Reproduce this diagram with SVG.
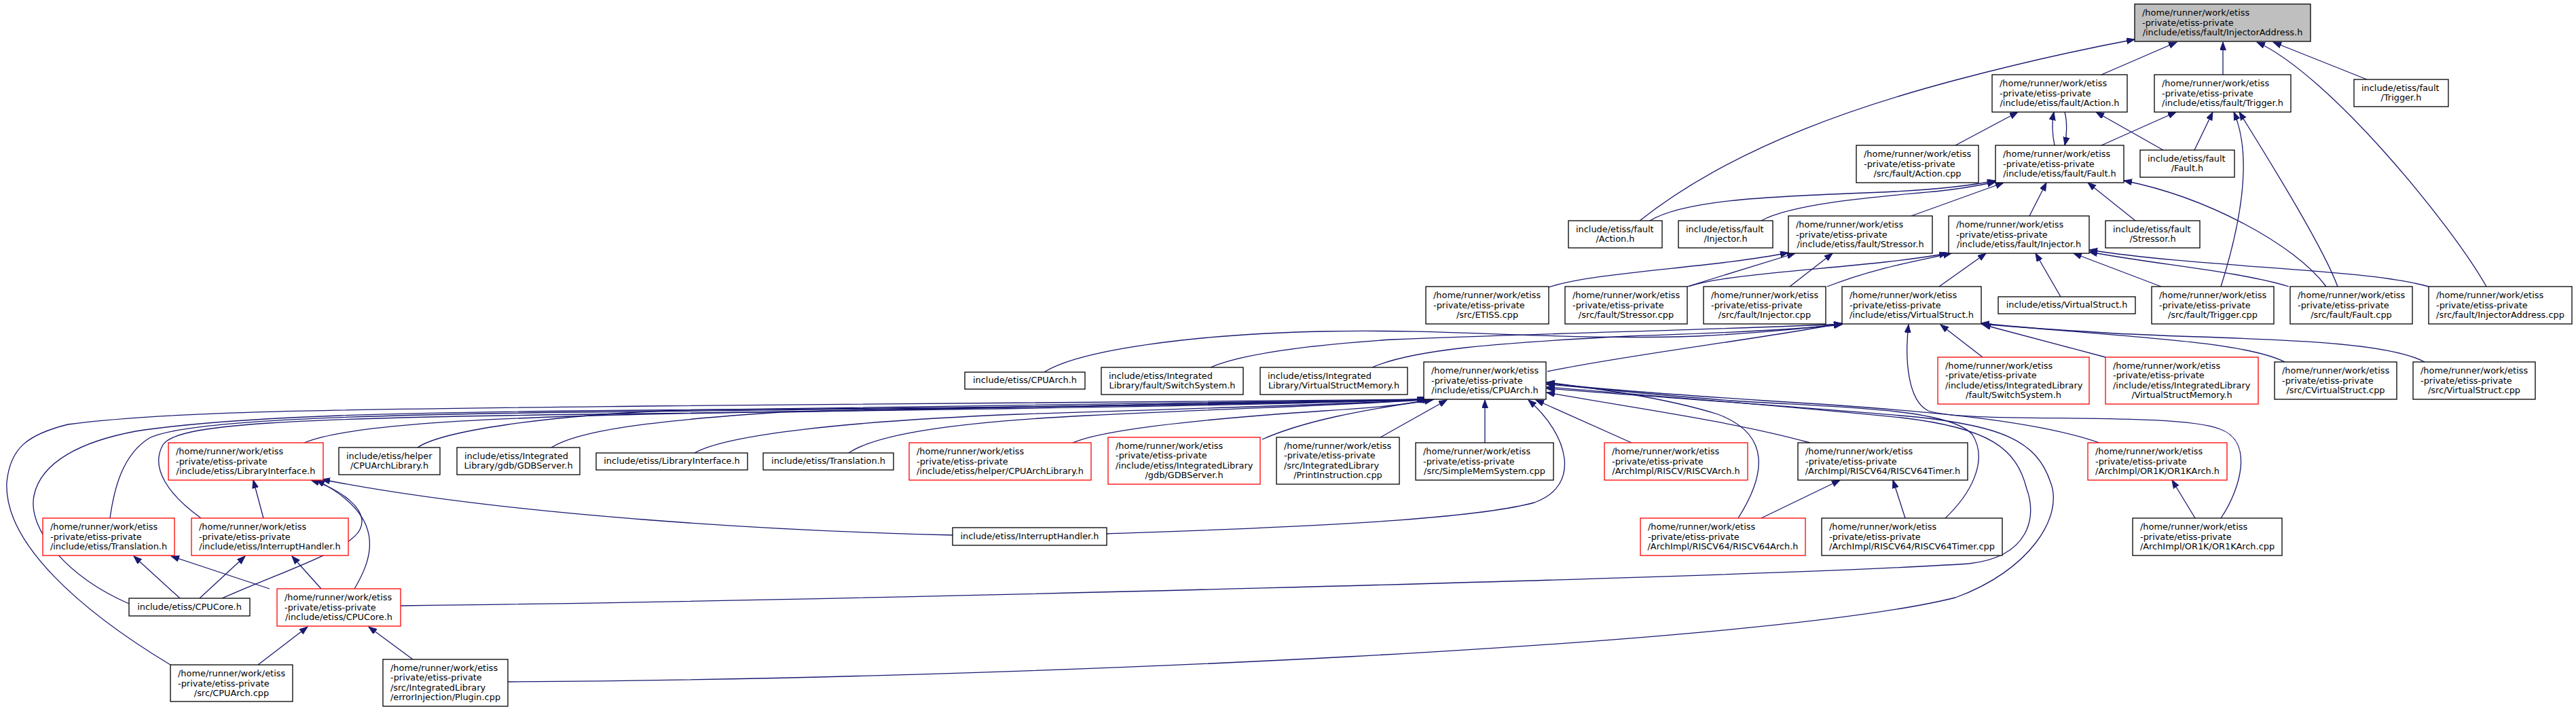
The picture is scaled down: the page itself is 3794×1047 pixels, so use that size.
<svg xmlns="http://www.w3.org/2000/svg" width="3794" height="1047" viewBox="0 0 3794 1047">
<style>
.n rect{fill:#fff;stroke:#000;stroke-width:1.3}
.red rect{stroke:#f00}
.root rect{fill:#bfbfbf}
text{font-family:"DejaVu Sans","Liberation Sans",sans-serif;font-size:12.9px;fill:#000}
.c{text-anchor:middle}
#edges path{fill:none;stroke:#191970;stroke-width:1.3;marker-end:url(#ah)}
</style>
<defs>
<marker id="ah" markerUnits="userSpaceOnUse" markerWidth="14" markerHeight="11" refX="12" refY="4.5" orient="auto"><path d="M0,0 L12,4.5 L0,9 Z" fill="#191970" stroke="#191970" stroke-width="1"/></marker>
</defs>
<rect x="0" y="0" width="3794" height="1047" fill="#fff"/>
<g id="edges">
<path d="M3095,110 L3206,62"/>
<path d="M3274,110 L3274,62"/>
<path d="M3486,117 L3348,62"/>
<path d="M3662,422 C3610,330 3430,110 3324,62"/>
<path d="M2415,325 C2560,210 2760,150 2880,118 C2990,89 3080,70 3144,58"/>
<path d="M2880,214 L2972,165"/>
<path d="M3026,214 C3022,195 3022,180 3025,165"/>
<path d="M3041,165 C3045,180 3044,200 3041,214"/>
<path d="M3186,221 L3087,165"/>
<path d="M3095,214 L3205,165"/>
<path d="M3232,221 L3259,165"/>
<path d="M3271,422 C3300,330 3318,230 3290,165"/>
<path d="M3443,422 C3420,360 3335,225 3298,165"/>
<path d="M3145,325 L3075,269"/>
<path d="M2989,318 L3014,269"/>
<path d="M3426,422 C3380,360 3250,290 3128,266"/>
<path d="M2430,325 C2480,295 2600,290 2720,285 C2820,282 2890,276 2939,266"/>
<path d="M2594,325 C2640,300 2760,290 2850,282 C2890,278 2920,272 2939,268"/>
<path d="M2815,318 L2951,269"/>
<path d="M2281,423 C2350,400 2520,395 2634,372"/>
<path d="M2485,422 L2644,373"/>
<path d="M2636,422 L2699,373"/>
<path d="M2487,422 C2550,400 2750,395 2868,373"/>
<path d="M2691,422 C2760,395 2820,385 2874,373"/>
<path d="M2856,422 L2925,373"/>
<path d="M3035,437 L2998,373"/>
<path d="M3183,422 L3054,373"/>
<path d="M3371,422 C3300,400 3180,390 3077,371"/>
<path d="M3577,422 C3480,395 3250,395 3077,368"/>
<path d="M2279,547 C2400,522 2600,498 2713,476"/>
<path d="M1538,548 C1590,515 1760,492 1950,488 C2150,484 2300,502 2500,495 C2600,490 2660,483 2713,477"/>
<path d="M1783,541 C1820,525 1900,510 2050,500 C2300,490 2550,485 2713,477"/>
<path d="M2021,541 C2080,515 2200,505 2400,495 C2550,490 2650,485 2713,478"/>
<path d="M2920,526 L2858,478"/>
<path d="M3101,526 L2920,478"/>
<path d="M3365,533 C3300,500 3100,495 2918,476"/>
<path d="M3571,533 C3500,495 3250,500 3100,490 C3000,484 2950,480 2918,477"/>
<path d="M3271,763 C3300,720 3320,650 3270,632 C3200,605 2900,625 2840,605 C2810,590 2805,530 2811,478"/>
<path d="M251,979 C120,900 5,800 10,710 C15,660 40,640 100,625 C250,605 500,603 950,598 C1500,594 1900,592 2099,588"/>
<path d="M190,889 C100,850 40,780 50,730 C60,680 120,650 200,635 C350,612 600,607 950,604 C1500,600 1900,594 2101,588"/>
<path d="M162,763 C168,720 180,670 220,645 C270,620 500,610 950,606 C1500,600 1900,595 2103,588"/>
<path d="M296,763 C250,730 220,690 240,655 C260,625 400,615 950,609 C1500,602 1900,596 2104,588"/>
<path d="M448,652 C500,630 650,617 950,610 C1500,600 1900,595 2105,588"/>
<path d="M615,659 C650,635 800,612 1000,604 C1500,598 1900,594 2106,588"/>
<path d="M812,659 C850,635 950,620 1150,607 C1500,598 1900,594 2107,588"/>
<path d="M1023,667 C1070,640 1250,620 1500,610 C1800,600 2000,595 2108,588"/>
<path d="M1250,667 C1290,640 1400,622 1600,612 C1850,600 2000,596 2109,588"/>
<path d="M1580,652 C1630,630 1800,615 1950,605 C2030,600 2080,595 2110,588"/>
<path d="M1859,647 C1920,620 2000,605 2112,588"/>
<path d="M1630,786 C1800,780 2150,770 2260,740 C2330,715 2310,640 2251,589"/>
<path d="M2033,644 L2131,589"/>
<path d="M2187,652 L2187,589"/>
<path d="M2403,652 L2262,589"/>
<path d="M2560,763 C2600,700 2610,640 2530,610 C2450,585 2350,572 2278,563"/>
<path d="M2666,652 C2550,620 2400,600 2278,578"/>
<path d="M2865,763 C2900,730 2930,680 2905,640 C2870,600 2700,600 2550,590 C2420,580 2330,570 2278,566"/>
<path d="M3092,652 C3000,620 2850,605 2600,590 C2450,580 2340,572 2278,564"/>
<path d="M590,892 C1200,885 2600,850 2900,830 C2990,820 3000,760 2985,720 C2970,660 2930,630 2800,615 C2600,595 2400,580 2278,570"/>
<path d="M748,1004 C1500,1000 2600,950 2880,880 C2990,840 3040,760 3020,710 C3000,650 2950,625 2800,612 C2600,595 2400,582 2278,572"/>
<path d="M388,763 L373,707"/>
<path d="M327,881 C420,840 515,810 530,780 C545,750 500,720 458,707"/>
<path d="M522,867 C550,820 570,760 466,707"/>
<path d="M1403,788 C1150,782 750,760 474,706"/>
<path d="M265,881 L197,819"/>
<path d="M294,881 L361,819"/>
<path d="M397,867 L252,819"/>
<path d="M473,867 L430,819"/>
<path d="M380,979 L453,923"/>
<path d="M608,971 L543,923"/>
<path d="M2594,763 L2710,707"/>
<path d="M2806,763 L2788,707"/>
<path d="M3233,763 L3199,707"/>
</g>

<g id="n0" class="n root"><rect x="3144" y="6" width="259" height="55"/><text x="3155" y="23.1">/home/runner/work/etiss</text><text x="3155" y="37.6">-private/etiss-private</text><text class="c" x="3273.5" y="52.1">/include/etiss/fault/InjectorAddress.h</text></g>

<g id="n1" class="n"><rect x="2934" y="110" width="199" height="55"/><text x="2945" y="127.1">/home/runner/work/etiss</text><text x="2945" y="141.6">-private/etiss-private</text><text class="c" x="3033.5" y="156.1">/include/etiss/fault/Action.h</text></g>
<g id="n2" class="n"><rect x="3173" y="110" width="201" height="55"/><text x="3184" y="127.1">/home/runner/work/etiss</text><text x="3184" y="141.6">-private/etiss-private</text><text class="c" x="3273.5" y="156.1">/include/etiss/fault/Trigger.h</text></g>
<g id="n3" class="n"><rect x="3467" y="117" width="139" height="40"/><text x="3478" y="133.9">include/etiss/fault</text><text class="c" x="3536.5" y="148.4">/Trigger.h</text></g>

<g id="n4" class="n"><rect x="2734" y="214" width="180" height="55"/><text x="2745" y="231.1">/home/runner/work/etiss</text><text x="2745" y="245.6">-private/etiss-private</text><text class="c" x="2824" y="260.1">/src/fault/Action.cpp</text></g>
<g id="n5" class="n"><rect x="2939" y="214" width="189" height="55"/><text x="2950" y="231.1">/home/runner/work/etiss</text><text x="2950" y="245.6">-private/etiss-private</text><text class="c" x="3033.5" y="260.1">/include/etiss/fault/Fault.h</text></g>
<g id="n6" class="n"><rect x="3152" y="221" width="139" height="40"/><text x="3163" y="237.9">include/etiss/fault</text><text class="c" x="3221.5" y="252.4">/Fault.h</text></g>

<g id="n7" class="n"><rect x="2310" y="325" width="138" height="40"/><text x="2321" y="341.9">include/etiss/fault</text><text class="c" x="2379" y="356.4">/Action.h</text></g>
<g id="n8" class="n"><rect x="2472" y="325" width="139" height="40"/><text x="2483" y="341.9">include/etiss/fault</text><text class="c" x="2541.5" y="356.4">/Injector.h</text></g>
<g id="n9" class="n"><rect x="2634" y="318" width="212" height="55"/><text x="2645" y="335.1">/home/runner/work/etiss</text><text x="2645" y="349.6">-private/etiss-private</text><text class="c" x="2740" y="364.1">/include/etiss/fault/Stressor.h</text></g>
<g id="n10" class="n"><rect x="2870" y="318" width="207" height="55"/><text x="2881" y="335.1">/home/runner/work/etiss</text><text x="2881" y="349.6">-private/etiss-private</text><text class="c" x="2973.5" y="364.1">/include/etiss/fault/Injector.h</text></g>
<g id="n11" class="n"><rect x="3101" y="325" width="139" height="40"/><text x="3112" y="341.9">include/etiss/fault</text><text class="c" x="3170.5" y="356.4">/Stressor.h</text></g>

<g id="n12" class="n"><rect x="2100" y="422" width="181" height="55"/><text x="2111" y="439.1">/home/runner/work/etiss</text><text x="2111" y="453.6">-private/etiss-private</text><text class="c" x="2190.5" y="468.1">/src/ETISS.cpp</text></g>
<g id="n13" class="n"><rect x="2305" y="422" width="180" height="55"/><text x="2316" y="439.1">/home/runner/work/etiss</text><text x="2316" y="453.6">-private/etiss-private</text><text class="c" x="2395" y="468.1">/src/fault/Stressor.cpp</text></g>
<g id="n14" class="n"><rect x="2509" y="422" width="180" height="55"/><text x="2520" y="439.1">/home/runner/work/etiss</text><text x="2520" y="453.6">-private/etiss-private</text><text class="c" x="2599" y="468.1">/src/fault/Injector.cpp</text></g>
<g id="n15" class="n"><rect x="2713" y="422" width="205" height="55"/><text x="2724" y="439.1">/home/runner/work/etiss</text><text x="2724" y="453.6">-private/etiss-private</text><text class="c" x="2815.5" y="468.1">/include/etiss/VirtualStruct.h</text></g>
<g id="n16" class="n"><rect x="2943" y="437" width="202" height="25"/><text class="c" x="3044" y="453.1">include/etiss/VirtualStruct.h</text></g>
<g id="n17" class="n"><rect x="3169" y="422" width="180" height="55"/><text x="3180" y="439.1">/home/runner/work/etiss</text><text x="3180" y="453.6">-private/etiss-private</text><text class="c" x="3259" y="468.1">/src/fault/Trigger.cpp</text></g>
<g id="n18" class="n"><rect x="3373" y="422" width="180" height="55"/><text x="3384" y="439.1">/home/runner/work/etiss</text><text x="3384" y="453.6">-private/etiss-private</text><text class="c" x="3463" y="468.1">/src/fault/Fault.cpp</text></g>
<g id="n19" class="n"><rect x="3577" y="422" width="211" height="55"/><text x="3588" y="439.1">/home/runner/work/etiss</text><text x="3588" y="453.6">-private/etiss-private</text><text class="c" x="3682.5" y="468.1">/src/fault/InjectorAddress.cpp</text></g>

<g id="n20" class="n"><rect x="1421" y="548" width="177" height="25"/><text class="c" x="1509.5" y="564.1">include/etiss/CPUArch.h</text></g>
<g id="n21" class="n"><rect x="1622" y="541" width="209" height="40"/><text x="1633" y="557.9">include/etiss/Integrated</text><text class="c" x="1726.5" y="572.4">Library/fault/SwitchSystem.h</text></g>
<g id="n22" class="n"><rect x="1856" y="541" width="217" height="40"/><text x="1867" y="557.9">include/etiss/Integrated</text><text class="c" x="1964.5" y="572.4">Library/VirtualStructMemory.h</text></g>
<g id="n23" class="n"><rect x="2097" y="533" width="180" height="55"/><text x="2108" y="550.1">/home/runner/work/etiss</text><text x="2108" y="564.6">-private/etiss-private</text><text class="c" x="2187" y="579.1">/include/etiss/CPUArch.h</text></g>
<g id="n24" class="n red"><rect x="2854" y="526" width="223" height="69"/><text x="2865" y="542.9">/home/runner/work/etiss</text><text x="2865" y="557.4">-private/etiss-private</text><text x="2865" y="571.9">/include/etiss/IntegratedLibrary</text><text class="c" x="2965.5" y="586.4">/fault/SwitchSystem.h</text></g>
<g id="n25" class="n red"><rect x="3101" y="526" width="225" height="69"/><text x="3112" y="542.9">/home/runner/work/etiss</text><text x="3112" y="557.4">-private/etiss-private</text><text x="3112" y="571.9">/include/etiss/IntegratedLibrary</text><text class="c" x="3213.5" y="586.4">/VirtualStructMemory.h</text></g>
<g id="n26" class="n"><rect x="3350" y="533" width="180" height="55"/><text x="3361" y="550.1">/home/runner/work/etiss</text><text x="3361" y="564.6">-private/etiss-private</text><text class="c" x="3440" y="579.1">/src/CVirtualStruct.cpp</text></g>
<g id="n27" class="n"><rect x="3554" y="533" width="180" height="55"/><text x="3565" y="550.1">/home/runner/work/etiss</text><text x="3565" y="564.6">-private/etiss-private</text><text class="c" x="3644" y="579.1">/src/VirtualStruct.cpp</text></g>

<g id="n28" class="n red"><rect x="248" y="652" width="228" height="55"/><text x="259" y="669.1">/home/runner/work/etiss</text><text x="259" y="683.6">-private/etiss-private</text><text class="c" x="362" y="698.1">/include/etiss/LibraryInterface.h</text></g>
<g id="n29" class="n"><rect x="499" y="659" width="149" height="40"/><text x="510" y="675.9">include/etiss/helper</text><text class="c" x="573.5" y="690.4">/CPUArchLibrary.h</text></g>
<g id="n30" class="n"><rect x="673" y="659" width="181" height="40"/><text x="684" y="675.9">include/etiss/Integrated</text><text class="c" x="763.5" y="690.4">Library/gdb/GDBServer.h</text></g>
<g id="n31" class="n"><rect x="878" y="667" width="223" height="25"/><text class="c" x="989.5" y="683.1">include/etiss/LibraryInterface.h</text></g>
<g id="n32" class="n"><rect x="1124" y="667" width="192" height="25"/><text class="c" x="1220" y="683.1">include/etiss/Translation.h</text></g>
<g id="n33" class="n red"><rect x="1339" y="652" width="268" height="55"/><text x="1350" y="669.1">/home/runner/work/etiss</text><text x="1350" y="683.6">-private/etiss-private</text><text class="c" x="1473" y="698.1">/include/etiss/helper/CPUArchLibrary.h</text></g>
<g id="n34" class="n red"><rect x="1632" y="644" width="224" height="69"/><text x="1643" y="660.9">/home/runner/work/etiss</text><text x="1643" y="675.4">-private/etiss-private</text><text x="1643" y="689.9">/include/etiss/IntegratedLibrary</text><text class="c" x="1744" y="704.4">/gdb/GDBServer.h</text></g>
<g id="n35" class="n"><rect x="1880" y="644" width="181" height="69"/><text x="1891" y="660.9">/home/runner/work/etiss</text><text x="1891" y="675.4">-private/etiss-private</text><text x="1891" y="689.9">/src/IntegratedLibrary</text><text class="c" x="1970.5" y="704.4">/PrintInstruction.cpp</text></g>
<g id="n36" class="n"><rect x="2085" y="652" width="203" height="55"/><text x="2096" y="669.1">/home/runner/work/etiss</text><text x="2096" y="683.6">-private/etiss-private</text><text class="c" x="2186.5" y="698.1">/src/SimpleMemSystem.cpp</text></g>
<g id="n37" class="n red"><rect x="2363" y="652" width="211" height="55"/><text x="2374" y="669.1">/home/runner/work/etiss</text><text x="2374" y="683.6">-private/etiss-private</text><text class="c" x="2468.5" y="698.1">/ArchImpl/RISCV/RISCVArch.h</text></g>
<g id="n38" class="n"><rect x="2648" y="652" width="250" height="55"/><text x="2659" y="669.1">/home/runner/work/etiss</text><text x="2659" y="683.6">-private/etiss-private</text><text class="c" x="2773" y="698.1">/ArchImpl/RISCV64/RISCV64Timer.h</text></g>
<g id="n39" class="n red"><rect x="3075" y="652" width="205" height="55"/><text x="3086" y="669.1">/home/runner/work/etiss</text><text x="3086" y="683.6">-private/etiss-private</text><text class="c" x="3177.5" y="698.1">/ArchImpl/OR1K/OR1KArch.h</text></g>

<g id="n40" class="n red"><rect x="63" y="763" width="194" height="55"/><text x="74" y="780.1">/home/runner/work/etiss</text><text x="74" y="794.6">-private/etiss-private</text><text class="c" x="160" y="809.1">/include/etiss/Translation.h</text></g>
<g id="n41" class="n red"><rect x="282" y="763" width="231" height="55"/><text x="293" y="780.1">/home/runner/work/etiss</text><text x="293" y="794.6">-private/etiss-private</text><text class="c" x="397.5" y="809.1">/include/etiss/InterruptHandler.h</text></g>
<g id="n42" class="n"><rect x="1403" y="777" width="227" height="26"/><text class="c" x="1516.5" y="793.6">include/etiss/InterruptHandler.h</text></g>
<g id="n43" class="n red"><rect x="2416" y="763" width="243" height="55"/><text x="2427" y="780.1">/home/runner/work/etiss</text><text x="2427" y="794.6">-private/etiss-private</text><text class="c" x="2537.5" y="809.1">/ArchImpl/RISCV64/RISCV64Arch.h</text></g>
<g id="n44" class="n"><rect x="2683" y="763" width="266" height="55"/><text x="2694" y="780.1">/home/runner/work/etiss</text><text x="2694" y="794.6">-private/etiss-private</text><text class="c" x="2816" y="809.1">/ArchImpl/RISCV64/RISCV64Timer.cpp</text></g>
<g id="n45" class="n"><rect x="3141" y="763" width="220" height="55"/><text x="3152" y="780.1">/home/runner/work/etiss</text><text x="3152" y="794.6">-private/etiss-private</text><text class="c" x="3251" y="809.1">/ArchImpl/OR1K/OR1KArch.cpp</text></g>

<g id="n46" class="n"><rect x="190" y="881" width="178" height="26"/><text class="c" x="279" y="897.6">include/etiss/CPUCore.h</text></g>
<g id="n47" class="n red"><rect x="408" y="867" width="182" height="55"/><text x="419" y="884.1">/home/runner/work/etiss</text><text x="419" y="898.6">-private/etiss-private</text><text class="c" x="499" y="913.1">/include/etiss/CPUCore.h</text></g>

<g id="n48" class="n"><rect x="251" y="979" width="180" height="54"/><text x="262" y="996.1">/home/runner/work/etiss</text><text x="262" y="1010.6">-private/etiss-private</text><text class="c" x="341" y="1025.1">/src/CPUArch.cpp</text></g>
<g id="n49" class="n"><rect x="564" y="971" width="184" height="69"/><text x="575" y="987.9">/home/runner/work/etiss</text><text x="575" y="1002.4">-private/etiss-private</text><text x="575" y="1016.9">/src/IntegratedLibrary</text><text class="c" x="656" y="1031.4">/errorInjection/Plugin.cpp</text></g>
</svg>
